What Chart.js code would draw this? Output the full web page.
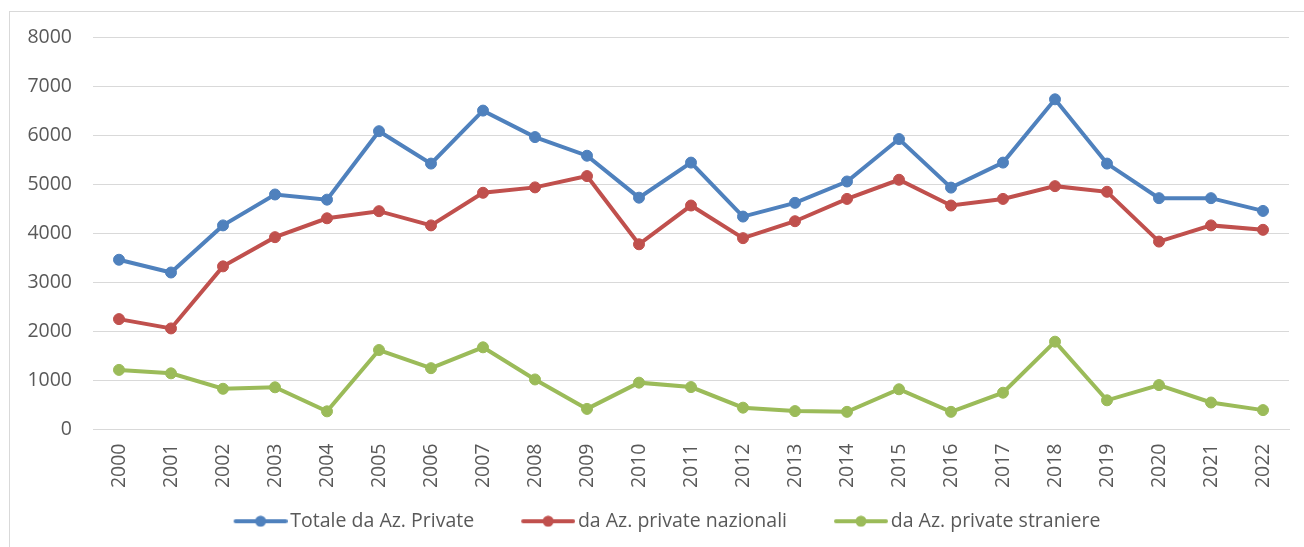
<!DOCTYPE html>
<html>
<head>
<meta charset="utf-8">
<script src="https://cdn.jsdelivr.net/npm/chart.js@4.4.1/dist/chart.umd.min.js"></script>
<style>
  html, body { margin: 0; padding: 0; background: #fff; }
  #wrap { position: relative; width: 1304px; height: 547px; overflow: hidden; }
  #frame { position: absolute; left: 9px; top: 11px; width: 1400px; height: 600px;
           border-left: 1px solid #d9d9d9; border-top: 1px solid #d9d9d9; }
  canvas { position: absolute; left: 0; top: 0; }
</style>
</head>
<body>
<div id="wrap">
  <div id="frame"></div>
  <canvas id="chart" width="1304" height="547"></canvas>
</div>
<script>
// anni
const years = ['2000', '2001', '2002', '2003', '2004', '2005', '2006', '2007', '2008', '2009', '2010', '2011',
  '2012', '2013', '2014', '2015', '2016', '2017', '2018', '2019', '2020', '2021', '2022'];

// valori
const totale = [3460, 3200, 4160, 4790, 4685, 6080, 5420, 6500, 5960, 5580, 4725, 5440,
  4340, 4620, 5055, 5920, 4930, 5440, 6730, 5420, 4715, 4715, 4455];
const nazionali = [2250, 2060, 3325, 3920, 4305, 4450, 4160, 4825, 4935, 5165, 3775, 4565,
  3900, 4245, 4700, 5090, 4565, 4700, 4960, 4845, 3830, 4160, 4070];
const straniere = [1215, 1145, 830, 860, 370, 1620, 1250, 1675, 1020, 420, 955, 865,
  445, 375, 360, 820, 360, 750, 1790, 595, 905, 550, 395];

const seriesNames = ['Totale da Az. Private', 'da Az. private nazionali', 'da Az. private straniere'];
const seriesColors = ['#4F81BD', '#C0504D', '#9BBB59'];
const yTicks = [0, 1000, 2000, 3000, 4000, 5000, 6000, 7000, 8000];

const FONT = '"Open Sans", Lato, sans-serif';
const FONT_SIZE = 19.5;

// simbolo legenda: linea con cerchio come in Excel,
// con spazio vuoto a sinistra per distanziare le voci
const SYM_LEN = 54;
const BOX_W = 92;          // pointStyleWidth
const OVER = 7;            // il simbolo sporge verso il testo
function legendSymbol(color) {
  const c = document.createElement('canvas');
  c.width = BOX_W + 2 * OVER;
  c.height = 12;
  const g = c.getContext('2d');
  const x0 = c.width - SYM_LEN;
  g.strokeStyle = color;
  g.lineWidth = 4;
  g.beginPath();
  g.moveTo(x0 + 2, 6);
  g.lineTo(c.width - 2, 6);
  g.lineCap = 'round';
  g.stroke();
  g.fillStyle = color;
  g.beginPath();
  g.arc(x0 + SYM_LEN / 2, 6, 5.5, 0, Math.PI * 2);
  g.fill();
  return c;
}

const allData = [totale, nazionali, straniere];
const datasets = allData.map((values, i) => ({
  label: seriesNames[i],
  data: values,
  borderColor: seriesColors[i],
  backgroundColor: seriesColors[i],
  pointBackgroundColor: seriesColors[i],
  pointBorderColor: seriesColors[i],
  borderWidth: 4,
  pointRadius: 5.5,
  pointBorderWidth: 1,
  pointStyle: 'circle',
  tension: 0,
  fill: false,
}));

new Chart(document.getElementById('chart').getContext('2d'), {
  type: 'line',
  data: { labels: years, datasets },
  options: {
    responsive: false,
    animation: false,
    devicePixelRatio: 1,
    layout: { padding: { left: 0, right: 15, top: 37, bottom: 6 } },
    plugins: {
      tooltip: { enabled: false },
      legend: {
        position: 'bottom',
        labels: {
          font: { family: FONT, size: FONT_SIZE },
          color: '#595959',
          usePointStyle: true,
          pointStyleWidth: BOX_W,
          padding: 2,
          generateLabels: (chart) => chart.data.datasets.map((ds, i) => ({
            text: ds.label,
            fillStyle: ds.borderColor,
            strokeStyle: ds.borderColor,
            lineWidth: 0,
            pointStyle: legendSymbol(ds.borderColor),
            datasetIndex: i,
            fontColor: '#595959',
          })),
        },
      },
    },
    scales: {
      x: {
        offset: true,
        grid: { display: false, drawTicks: false },
        border: { display: true, color: '#d9d9d9', width: 1 },
        ticks: {
          font: { family: FONT, size: FONT_SIZE },
          color: '#595959',
          minRotation: 90,
          maxRotation: 90,
          padding: 14,
          autoSkip: false,
        },
        afterFit: (scale) => { scale.height = 80; },
      },
      y: {
        min: 0,
        max: 8000,
        afterBuildTicks: (scale) => { scale.ticks = yTicks.map(v => ({ value: v })); },
        grid: { color: '#d9d9d9', lineWidth: 1, drawTicks: false },
        border: { display: false },
        ticks: {
          font: { family: FONT, size: FONT_SIZE },
          color: '#595959',
          padding: 21,
          callback: (v) => String(v),
        },
        afterFit: (scale) => { scale.width = 93; },
      },
    },
  },
});
</script>
</body>
</html>
